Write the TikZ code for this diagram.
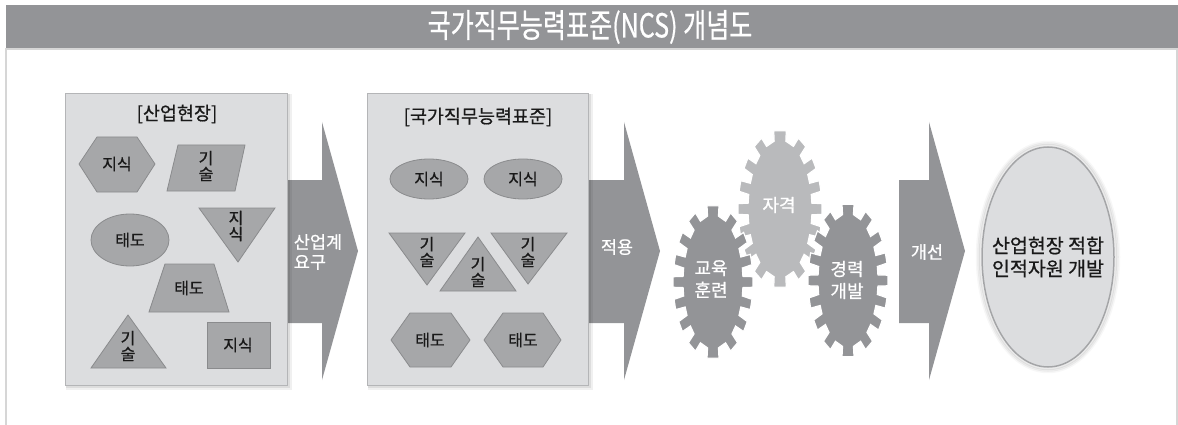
\documentclass[tikz,border=0pt]{standalone}
\usepackage{fontspec}
\usepackage{graphicx}
\setmainfont{Noto Sans CJK KR}[FakeBold=0.7]
\definecolor{hdr}{HTML}{939497}
\definecolor{boxfill}{HTML}{DCDDDF}
\definecolor{boxline}{HTML}{B4B5B7}
\definecolor{shpfill}{HTML}{A6A7A9}
\definecolor{shpline}{HTML}{8A8B8D}
\definecolor{arrowc}{HTML}{939497}
\definecolor{gearlight}{HTML}{B9BABC}
\definecolor{framec}{HTML}{D6D6D6}
\definecolor{ovalline}{HTML}{A4A5A7}
\tikzset{
  shp/.style={fill=shpfill, draw=shpline, line width=0.8},
  lbl/.style={font=\fontsize{16}{16}\selectfont, align=center, inner sep=0pt, text=black!90},
  boxtitle/.style={font=\fontsize{18.5}{20}\selectfont, inner sep=0pt, text=black!90},
  boxst/.style={fill=boxfill, draw=boxline, line width=0.8},
  blockarrow/.style={fill=arrowc},
  arrowtxt/.style={font=\fontsize{17.5}{20}\selectfont, align=left, inner sep=0pt, text=white},
  geartxt/.style={font=\fontsize{18}{22}\selectfont, align=center, inner sep=0pt, text=white},
}
% gear: teeth spaced evenly along the ellipse (parameter angle / half width)
\newcommand{\mygear}[5]{%
  \fill[#5, draw=white, line width=1.2]
    ({#1+#3*cos(-4.8)},{#2+#4*sin(-4.8)})
    \foreach \ang/\hw in {0/4.8,17/4.9,35.5/5.6,58/7.2,90/10.5,122/7.2,144.5/5.6,163/4.9,
                          180/4.8,197/4.9,215.5/5.6,238/7.2,270/10.5,302/7.2,324.5/5.6,343/4.9}{
      -- ({#1+#3*cos(\ang-\hw)},{#2+#4*sin(\ang-\hw)})
      -- ({#1+(#3+10)*cos(\ang-0.82*\hw)},{#2+(#4+10)*sin(\ang-0.82*\hw)})
      -- ({#1+(#3+10)*cos(\ang+0.82*\hw)},{#2+(#4+10)*sin(\ang+0.82*\hw)})
      -- ({#1+#3*cos(\ang+\hw)},{#2+#4*sin(\ang+\hw)})
    } -- cycle;}
\begin{document}
\begin{tikzpicture}[x=1pt,y=-1pt]
\useasboundingbox (0,0) rectangle (1178,425);
% frame and header
\draw[framec, line width=2] (6,48) -- (6,425);
\draw[framec, line width=2] (1177,48) -- (1177,425);
\draw[framec, line width=1.5] (6,49) -- (1178,49);
\fill[hdr] (6,5) rectangle (1178,48);
\node[text=white, font=\fontsize{33}{33}\selectfont, inner sep=0pt] (title) at (590,27)
  {\scalebox{0.76}[1]{국가직무능력표준(NCS) 개념도}};

% block arrows
\fill[blockarrow] (280,180) -- (322,180) -- (322,122) -- (358,251) -- (322,380) -- (322,323) -- (280,323) -- cycle;
\fill[blockarrow] (580,180) -- (624,180) -- (624,122) -- (660,251) -- (624,380) -- (624,323) -- (580,323) -- cycle;
\fill[blockarrow] (899,180) -- (929,180) -- (929,122) -- (965,251) -- (929,380) -- (929,323) -- (899,323) -- cycle;
\node[arrowtxt] (req) at (318,252) {산업계\\요구};
\node[arrowtxt] (apply) at (617,247) {적용};
\node[arrowtxt] (improve) at (927,252) {개선};

% box 1
\fill[black, opacity=0.06] (66,94) rectangle (292,390);
\fill[black, opacity=0.08] (66,94) rectangle (290,388);
\draw[boxst] (65,93) rectangle (287,385);
\node[boxtitle] (t1) at (177,114) {[산업현장]};
\draw[shp] (79,164) -- (97,137) -- (137,137) -- (155,164) -- (137,192) -- (97,192) -- cycle;
\node[lbl] (a1) at (117,164) {지식};
\draw[shp] (178,145) -- (245,145) -- (235,191) -- (167,191) -- cycle;
\node[lbl] (a2) at (206,166) {기\\술};
\draw[shp] (130,240) ellipse [x radius=39, y radius=26];
\node[lbl] (a3) at (130,240) {태도};
\draw[shp] (199,208) -- (275,208) -- (238,262) -- cycle;
\node[lbl] (a4) at (236,226) {지\\식};
\draw[shp] (165,264) -- (214,264) -- (229,312) -- (149,312) -- cycle;
\node[lbl] (a5) at (189,288) {태도};
\draw[shp] (128,315) -- (166,368) -- (91,368) -- cycle;
\node[lbl] (a6) at (128,346) {기\\술};
\draw[shp] (207,322) rectangle (270,368);
\node[lbl] (a7) at (238,345) {지식};

% box 2
\fill[black, opacity=0.06] (368,94) rectangle (593,390);
\fill[black, opacity=0.08] (368,94) rectangle (591,388);
\draw[boxst] (367,93) rectangle (588,385);
\node[boxtitle] (t2) at (478,117) {[국가직무능력표준]};
\draw[shp] (429,179) ellipse [x radius=39, y radius=20];
\node[lbl] (b1) at (429,179) {지식};
\draw[shp] (523,179) ellipse [x radius=39, y radius=20];
\node[lbl] (b2) at (523,179) {지식};
\draw[shp] (389,233) -- (465,233) -- (427,285) -- cycle;
\node[lbl] (b3) at (427,252) {기\\술};
\draw[shp] (478,237) -- (516,291) -- (440,291) -- cycle;
\node[lbl] (b4) at (478,272) {기\\술};
\draw[shp] (491,233) -- (567,233) -- (528,284) -- cycle;
\node[lbl] (b5) at (528,252) {기\\술};
\draw[shp] (391,340) -- (410,313) -- (451,313) -- (470,340) -- (451,367) -- (410,367) -- cycle;
\node[lbl] (b6) at (430,340) {태도};
\draw[shp] (484,340) -- (503,313) -- (543,313) -- (561,340) -- (543,367) -- (503,367) -- cycle;
\node[lbl] (b7) at (523,340) {태도};

% gears
\mygear{780}{209}{32}{69}{gearlight}
\mygear{713}{282}{30}{67}{arrowc}
\mygear{848}{280.5}{30}{67}{arrowc}
\node[geartxt] (g2) at (779,205) {자격};
\node[geartxt] (g1) at (711,279) {교육\\훈련};
\node[geartxt] (g3) at (847,280) {경력\\개발};

% final oval
\foreach \k/\op in {5/0.03,3.5/0.05,2/0.08}{
  \draw[black, opacity=\op, line width=2.5] (1048,257) ellipse [x radius=66+\k, y radius=110+\k];
}
\draw[fill=boxfill, draw=ovalline, line width=1.5] (1048,257) ellipse [x radius=66, y radius=110];
\node[font=\fontsize{19.5}{23}\selectfont, align=center, inner sep=0pt, text=black!90] (goal) at (1048,257)
  {산업현장 적합\\인적자원 개발};
\end{tikzpicture}
\end{document}
